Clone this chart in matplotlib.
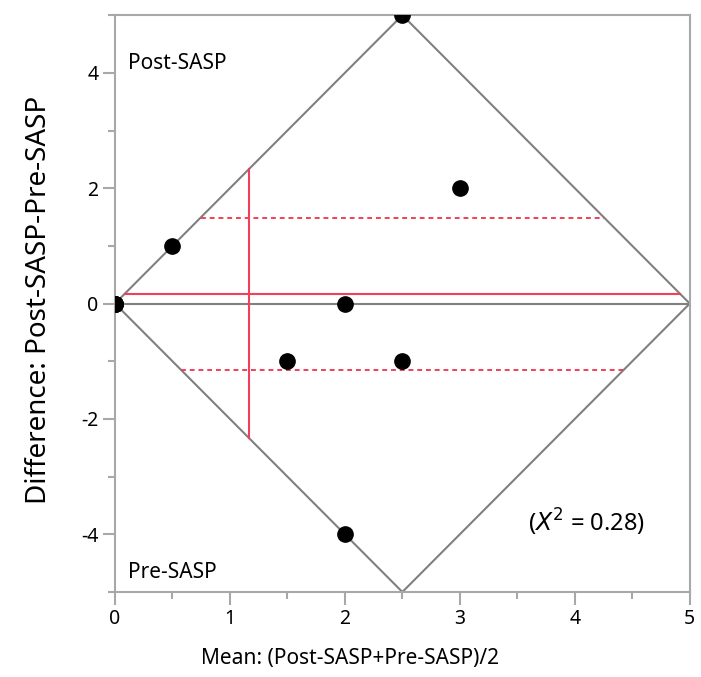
import numpy as np
import matplotlib.pyplot as plt
from matplotlib.ticker import MultipleLocator

plt.rcParams['font.family'] = ['Noto Sans', 'DejaVu Sans']
plt.rcParams['axes.unicode_minus'] = False

# ── Data ──────────────────────────────────────────────────────────────────────
mean_vals = [0, 0, 0, 0, 0, 0.5, 2, 1.5, 2.5, 3, 2.5, 2]
diff_vals = [0, 0, 0, 0, 0, 1, 0, -1, -1, 2, 5, -4]
t_crit    = 2.201          # t(0.975, df=11)
chi_sq    = 0.28

GRAY   = '#808080'
AXGRAY = '#a8a8a8'
RED    = '#f0405a'

x = np.array(mean_vals, float)
d = np.array(diff_vals, float)
n = len(d)
d_mean = d.mean()
x_mean = x.mean()
half   = t_crit * d.std(ddof=1) / np.sqrt(n)
x_max  = 5.0

fig = plt.figure(figsize=(7.01, 6.77), dpi=100)
ax = fig.add_axes([0.164, 0.1256, 0.820, 0.852])

# diamond + zero line
ax.plot([0, x_max / 2, x_max, x_max / 2, 0], [0, x_max, 0, -x_max, 0],
        color=GRAY, lw=1.5, zorder=2)
ax.plot([0, x_max], [0, 0], color=GRAY, lw=1.5, zorder=2)

# clip a horizontal line y=c to the diamond
def hspan(c):
    return abs(c) / 2, x_max - abs(c) / 2

lo, hi = hspan(d_mean)
ax.plot([lo, hi], [d_mean, d_mean], color=RED, lw=1.5, zorder=3)
for c in (d_mean + half, d_mean - half):
    lo, hi = hspan(c)
    ax.plot([lo, hi], [c, c], color=RED, lw=1.4, ls=(0, (2.5, 2)), zorder=3)
ax.plot([x_mean, x_mean], [-2 * x_mean, 2 * x_mean], color=RED, lw=1.5, zorder=3)

ax.plot(x, d, 'o', color='black', ms=11, zorder=4)

ax.text(0.11, 4.16, 'Post-SASP', fontsize=15, va='center', ha='left')
ax.text(0.11, -4.66, 'Pre-SASP', fontsize=15, va='center', ha='left')
ax.text(4.10, -3.8, r'($X^2$ = %.2f)' % chi_sq, fontsize=17, va='center', ha='center')

ax.set_xlim(0, 5)
ax.set_ylim(-5, 5)
ax.xaxis.set_major_locator(MultipleLocator(1))
ax.xaxis.set_minor_locator(MultipleLocator(0.5))
ax.yaxis.set_major_locator(MultipleLocator(2))
ax.yaxis.set_minor_locator(MultipleLocator(1))
ax.tick_params(which='major', length=9, width=1.5, color=AXGRAY, labelsize=14, pad=3)
ax.tick_params(which='minor', length=5, width=1.5, color=AXGRAY)
for s in ax.spines.values():
    s.set_color(AXGRAY)
    s.set_linewidth(1.5)

ax.set_xlabel('Mean: (Post-SASP+Pre-SASP)/2', fontsize=15)
ax.set_ylabel('Difference: Post-SASP-Pre-SASP', fontsize=20)
ax.xaxis.set_label_coords(0.409, -0.098)
ax.yaxis.set_label_coords(-0.108, 0.506)

plt.savefig('out.png', dpi=100)
